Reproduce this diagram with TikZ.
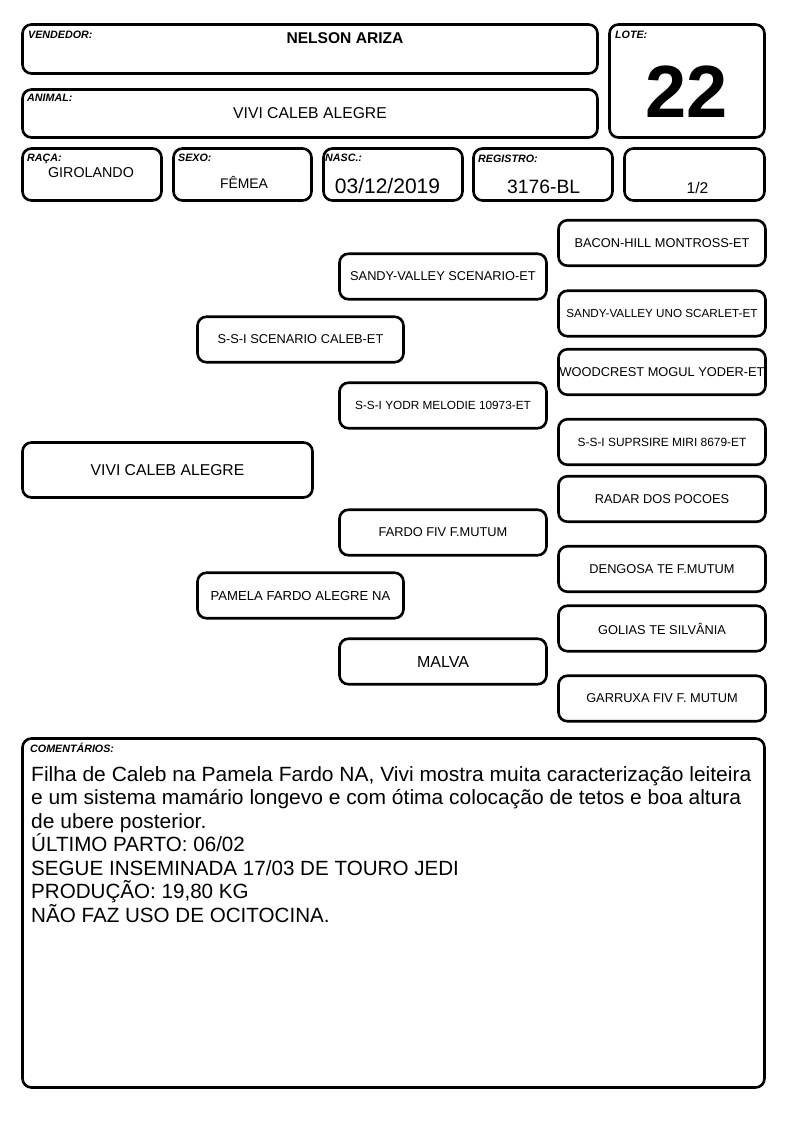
\documentclass[tikz,border=0pt]{standalone}
\usepackage{fontspec}
\setmainfont{Liberation Sans}
\begin{document}
\begin{tikzpicture}[x=1pt,y=-1pt,
  box/.style={draw, line width=2.6pt, rounded corners=9pt, fill=white, inner sep=0pt, align=center, text=black},
  lab/.style={font=\fontsize{10.7}{12}\selectfont\bfseries\itshape, inner sep=0pt, anchor=base west},
  val/.style={inner sep=0pt, anchor=base},
  ped/.style={box, minimum width=207pt, minimum height=45.5pt, font=\fontsize{12.8}{14}\selectfont},
  cline/.style={inner sep=0pt, anchor=base west, font=\fontsize{20.6}{23.5}\selectfont},
]
\useasboundingbox (0,0) rectangle (794,1123);

% header
\node[box, minimum width=575pt, minimum height=49pt] (vend) at (310,49) {};
\node[lab] (vendlab) at (28,38.5) {VENDEDOR:};
\node[val, font=\fontsize{15.6}{18}\selectfont\bfseries] (vendval) at (345,43.3) {NELSON ARIZA};

\node[box, minimum width=575pt, minimum height=48pt] (anim) at (310,113.5) {};
\node[lab] (animlab) at (27,102) {ANIMAL:};
\node[val, font=\fontsize{15.7}{18}\selectfont] (animval) at (310,118.3) {VIVI CALEB ALEGRE};

\node[box, minimum width=155pt, minimum height=113pt] (lote) at (687,81) {};
\node[lab] (lotelab) at (615,38.3) {LOTE:};
\node[val, font=\fontsize{74}{80}\selectfont\bfseries] (loteval) at (686.5,118) {22};

% row 3
\node[box, minimum width=139pt, minimum height=52pt] (raca) at (92,174.5) {};
\node[lab] (racalab) at (27,161.5) {RAÇA:};
\node[val, font=\fontsize{14.3}{16}\selectfont] (racaval) at (91,177.3) {GIROLANDO};

\node[box, minimum width=138pt, minimum height=52pt] (sexo) at (242.5,174.5) {};
\node[lab] (sexolab) at (178,161.5) {SEXO:};
\node[val, font=\fontsize{13.9}{16}\selectfont] (sexoval) at (244,189) {FÊMEA};

\node[box, minimum width=139pt, minimum height=52pt] (nasc) at (393,174.5) {};
\node[lab] (nasclab) at (325,161.5) {NASC.:};
\node[val, font=\fontsize{21}{24}\selectfont] (nascval) at (387.5,194) {03/12/2019};

\node[box, minimum width=139pt, minimum height=52pt] (reg) at (543,174.5) {};
\node[lab] (reglab) at (478,163) {REGISTRO:};
\node[val, font=\fontsize{19.3}{22}\selectfont] (regval) at (543.7,193.3) {3176-BL};

\node[box, minimum width=140pt, minimum height=52pt] (frac) at (694.5,174.5) {};
\node[val, font=\fontsize{15.6}{18}\selectfont] (fracval) at (697.5,193.3) {1/2};

% pedigree
\node[box, minimum width=290pt, minimum height=55pt, font=\fontsize{15.7}{18}\selectfont] (p0) at (167.5,470) {VIVI CALEB ALEGRE};

\node[ped, minimum width=206pt] (p1a) at (300.5,339.5) {S-S-I SCENARIO CALEB-ET};
\node[ped, minimum width=206pt, font=\fontsize{13.1}{15}\selectfont] (p1b) at (300.5,595.5) {PAMELA FARDO ALEGRE NA};

\node[ped] (p2a) at (443,276.5) {SANDY-VALLEY SCENARIO-ET};
\node[ped, font=\fontsize{11.8}{14}\selectfont] (p2b) at (443,405.5) {S-S-I YODR MELODIE 10973-ET};
\node[ped] (p2c) at (443,532.5) {FARDO FIV F.MUTUM};
\node[ped, font=\fontsize{16}{18}\selectfont] (p2d) at (443,661.5) {MALVA};

\node[ped] (p3a) at (662,243) {BACON-HILL MONTROSS-ET};
\node[ped, font=\fontsize{11.7}{14}\selectfont] (p3b) at (662,313.5) {SANDY-VALLEY UNO SCARLET-ET};
\node[ped] (p3c) at (662,372) {WOODCREST MOGUL YODER-ET};
\node[ped, font=\fontsize{11.9}{14}\selectfont] (p3d) at (662,442) {S-S-I SUPRSIRE MIRI 8679-ET};
\node[ped] (p3e) at (662,499) {RADAR DOS POCOES};
\node[ped] (p3f) at (662,569) {DENGOSA TE F.MUTUM};
\node[ped] (p3g) at (662,628.5) {GOLIAS TE SILVÂNIA};
\node[ped] (p3h) at (662,698.5) {GARRUXA FIV F. MUTUM};

% comments
\node[box, minimum width=742pt, minimum height=349pt] (com) at (393.5,913) {};
\node[lab] (comlab) at (30,752.7) {COMENTÁRIOS:};
\node[cline] (c1) at (31,781) {\scalebox{1.02}[1]{Filha de Caleb na Pamela Fardo NA, Vivi mostra muita caracterização leiteira}};
\node[cline] (c2) at (31,804.5) {\scalebox{1.02}[1]{e um sistema mamário longevo e com ótima colocação de tetos e boa altura}};
\node[cline] (c3) at (31,828) {\scalebox{1.02}[1]{de ubere posterior.}};
\node[cline] (c4) at (31,851.6) {ÚLTIMO PARTO: 06/02};
\node[cline] (c5) at (31,875.2) {SEGUE INSEMINADA 17/03 DE TOURO JEDI};
\node[cline] (c6) at (31,898.8) {PRODUÇÃO: 19,80 KG};
\node[cline] (c7) at (31,922.4) {NÃO FAZ USO DE OCITOCINA.};
\end{tikzpicture}
\end{document}
